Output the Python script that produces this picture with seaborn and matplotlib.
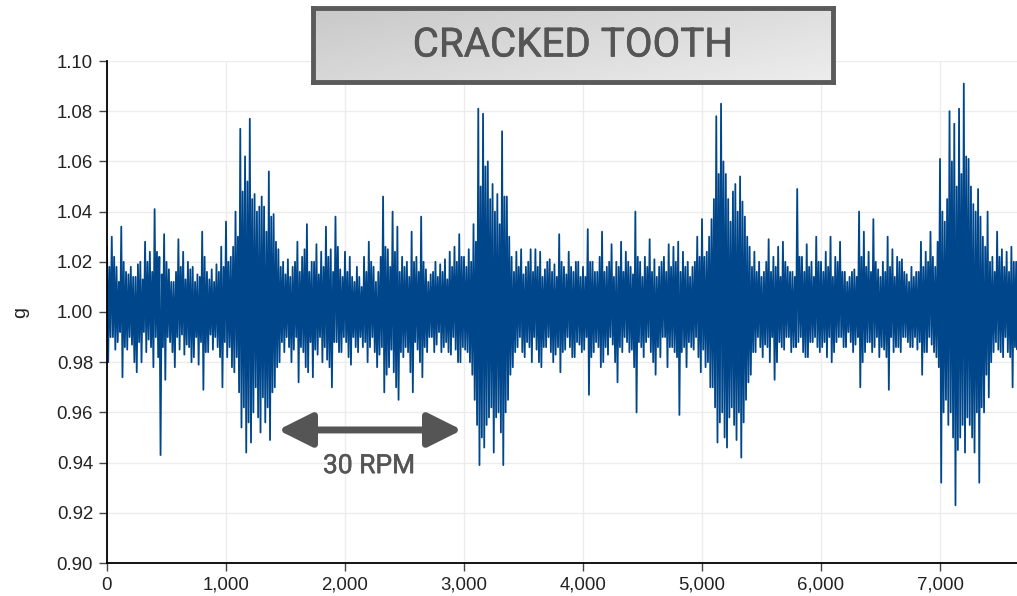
import numpy as np
import pandas as pd
import matplotlib
matplotlib.use('Agg')
import matplotlib.pyplot as plt
import matplotlib.patheffects as pe
import seaborn as sns
from matplotlib.colors import LinearSegmentedColormap

# Pics, par tranche de 40 echantillons :
# pic principal (haut / bas) et pic secondaire (haut2 / bas2)
pas = 40
haut = [
    1.026, 1.030, 1.018, 1.034, 1.016, 1.018, 1.014, 1.020, 1.028, 1.024,
    1.041, 1.022, 1.031, 1.017, 1.012, 1.029, 1.024, 1.020, 1.018, 1.015,
    1.032, 1.016, 1.017, 1.019, 1.026,
    1.036, 1.022, 1.040, 1.073, 1.062, 1.077, 1.047, 1.042, 1.042, 1.056,
    1.039, 1.025, 1.020, 1.021, 1.018, 1.028, 1.022, 1.035, 1.020, 1.027,
    1.024, 1.034, 1.025, 1.038, 1.017,
    1.024, 1.022, 1.012, 1.014, 1.022, 1.028, 1.018, 1.016, 1.046, 1.025,
    1.040, 1.034, 1.022, 1.020, 1.032, 1.022, 1.038, 1.017, 1.015, 1.020,
    1.019, 1.021, 1.024, 1.026, 1.031,
    1.022, 1.025, 1.035, 1.081, 1.079, 1.060, 1.051, 1.047, 1.072, 1.046,
    1.022, 1.024, 1.025, 1.018, 1.025, 1.025, 1.024, 1.017, 1.021, 1.019,
    1.031, 1.018, 1.024, 1.016, 1.020,
    1.018, 1.033, 1.020, 1.016, 1.032, 1.018, 1.027, 1.020, 1.028, 1.024,
    1.018, 1.040, 1.020, 1.022, 1.029, 1.021, 1.018, 1.022, 1.027, 1.026,
    1.028, 1.024, 1.020, 1.018, 1.030,
    1.037, 1.024, 1.037, 1.078, 1.083, 1.055, 1.036, 1.051, 1.054, 1.038,
    1.026, 1.024, 1.020, 1.016, 1.029, 1.022, 1.026, 1.028, 1.018, 1.016,
    1.049, 1.022, 1.027, 1.020, 1.030,
    1.020, 1.024, 1.030, 1.022, 1.028, 1.016, 1.014, 1.017, 1.040, 1.032,
    1.024, 1.037, 1.017, 1.020, 1.030, 1.025, 1.022, 1.021, 1.015, 1.018,
    1.016, 1.028, 1.024, 1.032, 1.018,
    1.061, 1.036, 1.080, 1.075, 1.081, 1.091, 1.061, 1.043, 1.049, 1.030,
    1.040, 1.022, 1.032, 1.025, 1.024, 1.026, 1.020,
]
bas = [
    0.980, 0.990, 0.988, 0.974, 0.985, 0.987, 0.976, 0.980, 0.984, 0.986,
    0.990, 0.943, 0.973, 0.988, 0.978, 0.985, 0.983, 0.986, 0.982, 0.979,
    0.969, 0.984, 0.985, 0.986, 0.970,
    0.982, 0.978, 0.982, 0.954, 0.944, 0.948, 0.970, 0.952, 0.956, 0.949,
    0.970, 0.980, 0.984, 0.986, 0.985, 0.972, 0.984, 0.976, 0.974, 0.983,
    0.980, 0.981, 0.970, 0.988, 0.984,
    0.988, 0.979, 0.986, 0.990, 0.988, 0.986, 0.984, 0.983, 0.968, 0.978,
    0.976, 0.965, 0.982, 0.984, 0.968, 0.985, 0.974, 0.984, 0.990, 0.987,
    0.984, 0.988, 0.983, 0.985, 0.980,
    0.985, 0.980, 0.965, 0.939, 0.946, 0.958, 0.944, 0.960, 0.939, 0.965,
    0.978, 0.986, 0.984, 0.988, 0.980, 0.985, 0.978, 0.986, 0.984, 0.983,
    0.976, 0.985, 0.986, 0.982, 0.987,
    0.985, 0.967, 0.984, 0.986, 0.980, 0.983, 0.987, 0.972, 0.984, 0.988,
    0.985, 0.960, 0.986, 0.988, 0.984, 0.975, 0.982, 0.990, 0.986, 0.984,
    0.959, 0.986, 0.988, 0.985, 0.982,
    0.985, 0.980, 0.970, 0.948, 0.960, 0.946, 0.962, 0.949, 0.942, 0.965,
    0.975, 0.984, 0.986, 0.987, 0.980, 0.973, 0.988, 0.985, 0.990, 0.986,
    0.988, 0.984, 0.982, 0.988, 0.986,
    0.986, 0.982, 0.980, 0.988, 0.990, 0.986, 0.988, 0.987, 0.970, 0.984,
    0.988, 0.986, 0.982, 0.985, 0.969, 0.984, 0.986, 0.990, 0.988, 0.986,
    0.985, 0.975, 0.984, 0.987, 0.982,
    0.932, 0.965, 0.960, 0.923, 0.950, 0.944, 0.955, 0.944, 0.932, 0.960,
    0.966, 0.984, 0.985, 0.982, 0.984, 0.970, 0.985,
]
haut2 = [
    1.018, 1.022, 1.012, 1.020, 1.015, 1.014, 1.019, 1.013, 1.020, 1.016,
    1.024, 1.015, 1.020, 1.012, 1.016, 1.018, 1.013, 1.017, 1.012, 1.014,
    1.022, 1.013, 1.012, 1.016, 1.018,
    1.020, 1.026, 1.030, 1.048, 1.052, 1.045, 1.040, 1.046, 1.032, 1.038,
    1.028, 1.018, 1.015, 1.014, 1.020, 1.016, 1.025, 1.016, 1.020, 1.015,
    1.018, 1.022, 1.016, 1.026, 1.014,
    1.016, 1.014, 1.018, 1.010, 1.016, 1.020, 1.012, 1.022, 1.026, 1.018,
    1.024, 1.016, 1.018, 1.014, 1.020, 1.016, 1.020, 1.012, 1.016, 1.014,
    1.016, 1.013, 1.018, 1.020, 1.022,
    1.018, 1.020, 1.028, 1.050, 1.058, 1.045, 1.040, 1.035, 1.046, 1.030,
    1.016, 1.018, 1.015, 1.020, 1.016, 1.018, 1.014, 1.020, 1.016, 1.014,
    1.020, 1.015, 1.018, 1.020, 1.014,
    1.014, 1.020, 1.016, 1.022, 1.016, 1.020, 1.014, 1.018, 1.016, 1.020,
    1.015, 1.022, 1.014, 1.018, 1.016, 1.014, 1.020, 1.016, 1.018, 1.020,
    1.016, 1.018, 1.014, 1.020, 1.022,
    1.022, 1.030, 1.045, 1.055, 1.060, 1.045, 1.048, 1.040, 1.044, 1.030,
    1.018, 1.016, 1.014, 1.020, 1.016, 1.018, 1.014, 1.020, 1.016, 1.014,
    1.022, 1.016, 1.018, 1.014, 1.020,
    1.016, 1.018, 1.014, 1.020, 1.016, 1.012, 1.016, 1.014, 1.022, 1.018,
    1.016, 1.020, 1.014, 1.016, 1.018, 1.014, 1.020, 1.016, 1.012, 1.014,
    1.016, 1.018, 1.020, 1.022, 1.028,
    1.040, 1.045, 1.060, 1.050, 1.055, 1.062, 1.050, 1.040, 1.038, 1.026,
    1.020, 1.016, 1.022, 1.018, 1.016, 1.020, 1.016,
]
bas2 = [
    0.990, 0.985, 0.992, 0.986, 0.990, 0.980, 0.988, 0.992, 0.989, 0.978,
    0.982, 0.986, 0.990, 0.984, 0.990, 0.991, 0.987, 0.980, 0.990, 0.988,
    0.984, 0.991, 0.990, 0.982, 0.988,
    0.986, 0.976, 0.968, 0.962, 0.956, 0.960, 0.958, 0.966, 0.962, 0.968,
    0.978, 0.988, 0.990, 0.980, 0.990, 0.986, 0.978, 0.988, 0.985, 0.990,
    0.986, 0.978, 0.988, 0.984, 0.990,
    0.982, 0.990, 0.984, 0.986, 0.980, 0.990, 0.978, 0.986, 0.975, 0.985,
    0.970, 0.984, 0.986, 0.976, 0.988, 0.980, 0.986, 0.990, 0.984, 0.992,
    0.986, 0.984, 0.990, 0.980, 0.986,
    0.984, 0.975, 0.955, 0.950, 0.955, 0.962, 0.958, 0.952, 0.960, 0.975,
    0.984, 0.990, 0.982, 0.986, 0.990, 0.980, 0.986, 0.990, 0.980, 0.986,
    0.984, 0.990, 0.982, 0.988, 0.984,
    0.990, 0.982, 0.988, 0.978, 0.986, 0.990, 0.980, 0.986, 0.990, 0.984,
    0.978, 0.988, 0.982, 0.990, 0.980, 0.986, 0.990, 0.978, 0.986, 0.982,
    0.984, 0.978, 0.986, 0.990, 0.976,
    0.978, 0.970, 0.962, 0.956, 0.950, 0.958, 0.955, 0.960, 0.956, 0.972,
    0.984, 0.990, 0.982, 0.986, 0.990, 0.980, 0.986, 0.990, 0.984, 0.986,
    0.990, 0.982, 0.988, 0.990, 0.984,
    0.988, 0.990, 0.984, 0.990, 0.986, 0.992, 0.984, 0.990, 0.980, 0.988,
    0.984, 0.990, 0.986, 0.982, 0.990, 0.986, 0.984, 0.990, 0.986, 0.990,
    0.988, 0.984, 0.990, 0.984, 0.978,
    0.960, 0.955, 0.950, 0.945, 0.955, 0.958, 0.950, 0.960, 0.962, 0.975,
    0.980, 0.988, 0.984, 0.990, 0.982, 0.986, 0.990,
]

x_ticks = [0, 1000, 2000, 3000, 4000, 5000, 6000, 7000]
y_ticks = [0.90, 0.92, 0.94, 0.96, 0.98, 1.00, 1.02, 1.04, 1.06, 1.08, 1.10]

# Serie : haut, bas, haut2, bas2 dans chaque tranche
idx = np.arange(len(haut)) * pas
signal = pd.DataFrame({
    'echantillon': np.column_stack([idx, idx + 10, idx + 20, idx + 30]).ravel(),
    'g': np.column_stack([haut, bas, haut2, bas2]).ravel(),
})

sns.set_style('white')
plt.rcParams['font.family'] = ['Liberation Sans', 'DejaVu Sans']

fig = plt.figure(figsize=(10.17, 5.96), dpi=100)
ax = fig.add_axes([107 / 1017, 1 - 563 / 596, 910 / 1017, 502 / 596])

sns.lineplot(data=signal, x='echantillon', y='g', ax=ax, color='#00468b',
             linewidth=1.3, estimator=None, sort=False)

ax.set_xlim(0, 7647)
ax.set_ylim(0.90, 1.10)
ax.set_xticks(x_ticks)
ax.set_xticklabels([f'{v:,}' for v in x_ticks])
ax.set_yticks(y_ticks)
ax.set_yticklabels([f'{v:.2f}' for v in y_ticks])
ax.grid(True, color='#ececec', linewidth=1)
ax.set_axisbelow(True)
for side in ['top', 'right']:
    ax.spines[side].set_visible(False)
for side in ['left', 'bottom']:
    ax.spines[side].set_color('black')
    ax.spines[side].set_linewidth(1.3)
ax.tick_params(axis='both', length=6, width=1, color='#444', labelsize=13.4,
               labelcolor='#222', pad=4, left=True, bottom=True)
ax.set_xlabel('')
ax.set_ylabel('g', fontsize=14, color='#222', labelpad=20)

# texte un peu plus gras que le regular
epais = [pe.withStroke(linewidth=0.4, foreground='#555555')]

# Fleche 30 RPM
ax.annotate('', xy=(2983, 0.953), xytext=(1437, 0.953),
            arrowprops=dict(arrowstyle='<|-|>,head_length=0.9,head_width=0.45',
                            mutation_scale=23, lw=5, color='#555555',
                            shrinkA=0, shrinkB=0))
ax.text(2202, 0.9386, '30 RPM', ha='center', va='center', fontsize=19,
        color='#555555', family=['Roboto', 'DejaVu Sans'], path_effects=epais)

# Cartouche du titre
bx = fig.add_axes([313 / 1017, 1 - 82 / 596, 520 / 1017, 74 / 596])
cmap = LinearSegmentedColormap.from_list('gris', ['#c9c9c9', '#ededed'])
grad = np.add.outer(np.linspace(0, 0.4, 20), np.linspace(0, 0.6, 100))
bx.imshow(grad, cmap=cmap, aspect='auto', extent=[0, 1, 0, 1], vmin=0, vmax=1)
bx.set_xticks([])
bx.set_yticks([])
for s in bx.spines.values():
    s.set_color('#5a5a5a')
    s.set_linewidth(3.5)
bx.text(0.5, 0.5, 'CRACKED TOOTH', ha='center', va='center', fontsize=29,
        color='#555555', family=['Roboto', 'DejaVu Sans'], path_effects=epais,
        transform=bx.transAxes)

fig.savefig('out.png', dpi=100)
